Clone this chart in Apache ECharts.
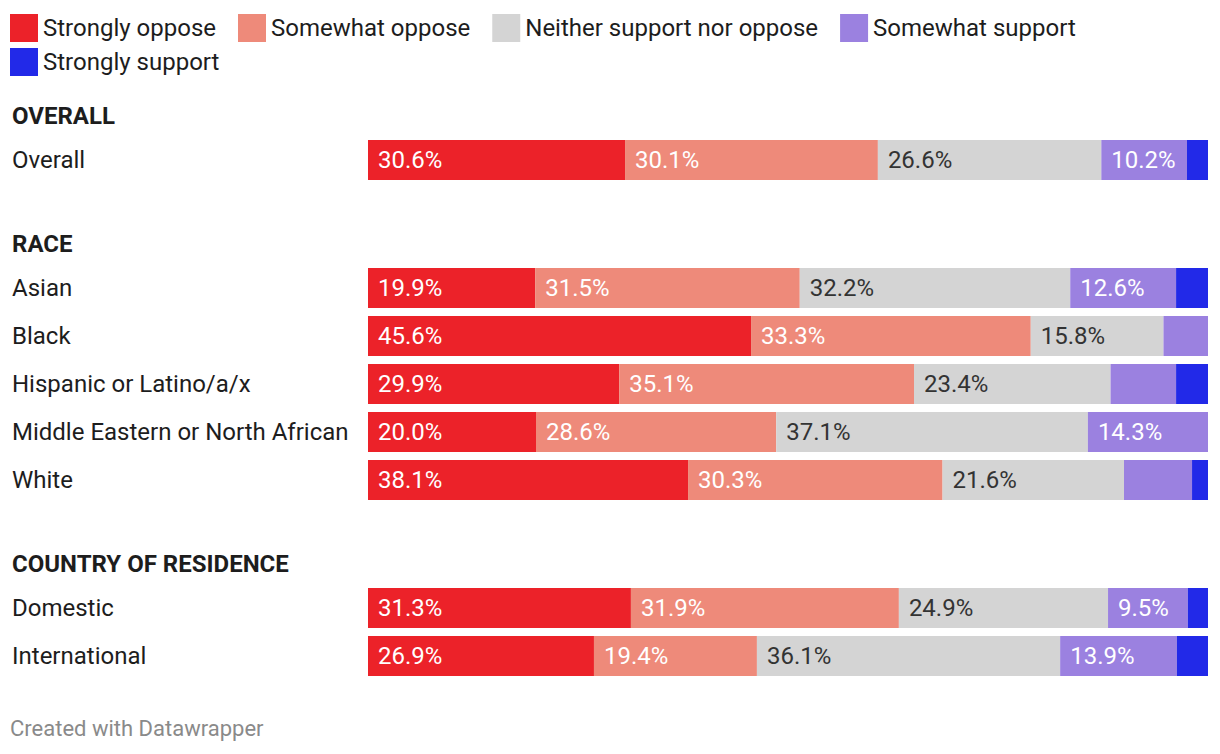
<!DOCTYPE html>
<html>
<head>
<meta charset="utf-8">
<script src="https://cdn.jsdelivr.net/npm/echarts@6/dist/echarts.min.js"></script>
<style>
html,body{margin:0;padding:0;background:#fff;}
#chart{width:1220px;height:754px;}
</style>
</head>
<body>
<div id="chart"></div>
<script>
// ---- data ----
const seriesNames = ['Strongly oppose','Somewhat oppose','Neither support nor oppose','Somewhat support','Strongly support'];
const groupTitles = ['OVERALL','RACE','COUNTRY OF RESIDENCE'];
const overallCats = ['Overall'];
const raceCats = ['Asian','Black','Hispanic or Latino/a/x','Middle Eastern or North African','White'];
const countryCats = ['Domestic','International'];

const stronglyOppose = [30.6, 19.9, 45.6, 29.9, 20.0, 38.1, 31.3, 26.9];
const somewhatOppose = [30.1, 31.5, 33.3, 35.1, 28.6, 30.3, 31.9, 19.4];
const neither        = [26.6, 32.2, 15.8, 23.4, 37.1, 21.6, 24.9, 36.1];
const somewhatSupport= [10.2, 12.6, 5.3, 7.8, 14.3, 8.1, 9.5, 13.9];
const stronglySupport= [2.5, 3.8, 0, 3.8, 0, 1.9, 2.4, 3.7];

const colors = ['#ec2229','#ee8a7a','#d4d4d4','#9b81e0','#2229e8'];
const labelColors = ['#ffffff','#ffffff','#333333','#ffffff','#ffffff'];
const allValues = [stronglyOppose, somewhatOppose, neither, somewhatSupport, stronglySupport];

// ---- layout ----
const groups = [
  {cats: overallCats, start: 0, top: 136},
  {cats: raceCats, start: 1, top: 264},
  {cats: countryCats, start: 6, top: 584}
];
const rowH = 48;
const FONT = 'Roboto, "Noto Sans", sans-serif';
const FS = 24;

const grid = [], xAxis = [], yAxis = [], series = [];
groups.forEach((g, gi) => {
  grid.push({left: 368, right: 12, top: g.top, height: g.cats.length * rowH});
  xAxis.push({gridIndex: gi, type: 'value', min: 0, max: 100, show: false});
  yAxis.push({
    gridIndex: gi, type: 'category', inverse: true, data: g.cats,
    axisLine: {show: false}, axisTick: {show: false}, splitLine: {show: false},
    axisLabel: {align: 'left', margin: 356, fontSize: FS, color: '#1d1d1d', fontFamily: FONT}
  });
  seriesNames.forEach((name, si) => {
    series.push({
      name: name, type: 'bar', stack: 'g' + gi,
      xAxisIndex: gi, yAxisIndex: gi,
      barWidth: 40,
      itemStyle: {color: colors[si]},
      emphasis: {disabled: true},
      label: {
        show: true, position: 'insideLeft', distance: 10,
        fontSize: FS, fontFamily: FONT, color: labelColors[si],
        formatter: p => (p.value >= 9 ? p.value.toFixed(1) + '%' : '')
      },
      data: allValues[si].slice(g.start, g.start + g.cats.length)
    });
  });
});

const headerYs = [116, 244, 564];
const graphics = groupTitles.map((t, i) => ({
  type: 'text', x: 12, y: headerYs[i],
  style: {text: t, fontSize: FS, fontWeight: 'bold', fill: '#1d1d1d', fontFamily: FONT,
          align: 'left', verticalAlign: 'middle'}
}));
graphics.push({
  type: 'text', x: 10, y: 728,
  style: {text: 'Created with Datawrapper', fontSize: 22, fill: '#8a8a8a', fontFamily: FONT,
          align: 'left', verticalAlign: 'middle'}
});

const legendCommon = {
  icon: 'rect', itemWidth: 28, itemHeight: 28, itemGap: 22, padding: 0,
  textStyle: {fontSize: FS, color: '#1d1d1d', fontFamily: FONT},
  selectedMode: false, left: 10
};

const chart = echarts.init(document.getElementById('chart'), null, {renderer: 'svg'});
chart.setOption({
  animation: false,
  backgroundColor: '#ffffff',
  legend: [
    Object.assign({}, legendCommon, {top: 14, data: seriesNames.slice(0, 4)}),
    Object.assign({}, legendCommon, {top: 48, data: seriesNames.slice(4)})
  ],
  grid, xAxis, yAxis, series,
  graphic: graphics
});
</script>
</body>
</html>
